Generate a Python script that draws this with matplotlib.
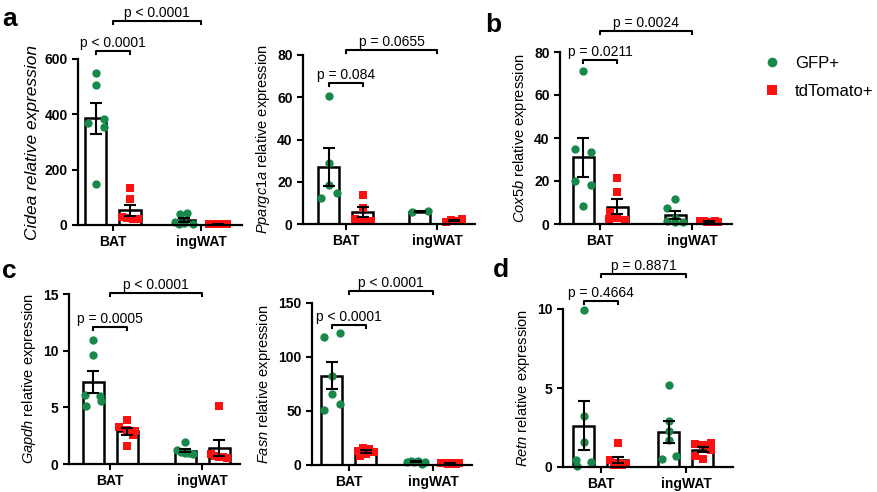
import matplotlib
matplotlib.use("Agg")
import numpy as np
import matplotlib.pyplot as plt
import matplotlib.transforms as mtransforms
from matplotlib.lines import Line2D

plt.rcParams['font.family'] = ['Liberation Sans', 'DejaVu Sans']
plt.rcParams['mathtext.fontset'] = 'custom'
plt.rcParams['mathtext.it'] = 'Liberation Sans:italic'
plt.rcParams['mathtext.rm'] = 'Liberation Sans'

GREEN = '#17894a'
RED = '#ff1010'

groups = ['BAT', 'ingWAT']
series = ['GFP+', 'tdTomato+']

# values, order: GFP BAT, tdTomato BAT, GFP ingWAT, tdTomato ingWAT
cidea = [[549, 507, 382, 369, 355, 148],
         [135, 94, 30, 25, 20, 20],
         [44, 38, 12, 6, 4, 4],
         [2, 3, 4, 3, 2, 4]]
ppargc1a = [[60.6, 28.7, 18.5, 14.8, 12.1],
            [13.7, 7.7, 2.5, 2.0, 1.6],
            [5.5, 6.3],
            [0.8, 1.8, 1.2, 2.2]]
cox5b = [[71.1, 34.8, 33.7, 20.0, 18.2, 8.5],
         [21.3, 14.8, 5.5, 3.0, 2.2, 1.8],
         [11.5, 7.6, 3.0, 1.2, 0.9, 0.8],
         [1.2, 1.6, 0.8, 1.0, 1.4, 0.9]]
gapdh = [[10.9, 9.65, 6.1, 5.97, 5.6, 5.1],
         [3.85, 3.3, 3.0, 2.9, 2.6, 1.6],
         [1.95, 1.2, 1.1, 1.0, 0.9, 0.95],
         [5.1, 0.9, 0.7, 0.6, 0.6, 0.55]]
fasn = [[118.5, 122, 82, 65.6, 56.6, 51],
        [16, 15, 13, 12, 10, 8],
        [3, 4, 2.5, 3.5, 1, 3],
        [1.5, 2, 1, 1.8, 1.2, 1.6]]
retn = [[9.96, 3.25, 1.56, 0.46, 0.32, 0.04],
        [1.5, 0.45, 0.25, 0.2, 0.15, 0.1],
        [5.2, 2.93, 2.26, 1.73, 0.72, 0.5],
        [1.5, 1.45, 1.4, 1.05, 0.7, 0.5]]

# horizontal scatter of the dots, as fraction of half a bar width
jitter = {
    'Cidea': [[0, 0, 0.73, -0.8, 0.73, 0], [0, 0, -0.8, -0.3, 0.3, 0.8],
              [0.3, -0.4, -0.9, 0, 0.9, -0.5], [-0.9, -0.5, -0.15, 0.2, 0.55, 0.9]],
    'Ppargc1a': [[0, 0, 0, 0.76, -0.76], [0, 0, -0.8, 0, 0.8],
                 [-0.8, 0.8], [-0.8, -0.3, 0.3, 0.8]],
    'Cox5b': [[0, -0.8, 0.75, -0.8, 0.75, 0], [0, 0, -0.7, 0, -0.8, 0.8],
              [0, -0.8, 0, -0.8, 0, 0.8], [-0.9, -0.5, -0.15, 0.2, 0.55, 0.9]],
    'Gapdh': [[0, 0, -0.75, 0.7, 0.8, -0.7], [0, -0.8, 0, 0.8, 0.6, 0],
              [0, -0.8, -0.4, 0.4, 0.8, 0], [0, -0.8, -0.4, 0, 0.4, 0.8]],
    'Fasn': [[-0.75, 0.75, 0, 0, 0.75, -0.75], [-0.3, 0.3, -0.8, 0.8, 0, -0.6],
             [-0.9, -0.5, -0.15, 0.2, 0.55, 0.9], [-0.9, -0.5, -0.15, 0.2, 0.55, 0.9]],
    'Retn': [[0, 0, 0, -0.8, 0.7, -0.7], [0, -0.8, 0, 0.8, -0.4, 0.4],
             [0, 0, 0, 0, 0.7, -0.7], [0.8, -0.8, 0, 0.8, -0.8, 0]],
}

# box = left, top, right, bottom in pixels; centers = BAT / ingWAT in pixels
panels = [
    dict(gene='Cidea', data=cidea, ymax=600, step=200, box=(78, 59, 242, 225),
         centers=(113, 201), brackets=(1.048, 1.229),
         pvals=('p < 0.0001', 'p < 0.0001'), all_italic=True),
    dict(gene='Ppargc1a', data=ppargc1a, ymax=80, step=20, box=(303, 55, 475, 224),
         centers=(346, 437), brackets=(0.834, 1.03),
         pvals=('p = 0.084', 'p = 0.0655')),
    dict(gene='Cox5b', data=cox5b, ymax=80, step=20, box=(560, 52, 732, 224),
         centers=(600, 692), brackets=(0.953, 1.122),
         pvals=('p = 0.0211', 'p = 0.0024')),
    dict(gene='Gapdh', data=gapdh, ymax=15, step=5, box=(69, 294, 240, 464),
         centers=(110, 202), brackets=(0.806, 1.006),
         pvals=('p = 0.0005', 'p < 0.0001')),
    dict(gene='Fasn', data=fasn, ymax=150, step=50, box=(312, 303, 472, 465),
         centers=(349, 433), brackets=(0.864, 1.074),
         pvals=('p < 0.0001', 'p < 0.0001')),
    dict(gene='Retn', data=retn, ymax=10, step=5, box=(563, 309, 733, 467),
         centers=(601, 686), brackets=(1.05, 1.22),
         pvals=('p = 0.4664', 'p = 0.8871')),
]

W, H = 878, 492
fig = plt.figure(figsize=(W / 100, H / 100), dpi=100)

for p in panels:
    l, t, r, b = p['box']
    ax = fig.add_axes([l / W, 1 - b / H, (r - l) / W, (b - t) / H])
    c0, c1 = p['centers']
    unit = c1 - c0
    ax.set_xlim(-(c0 - l) / unit, (r - c0) / unit)
    ax.set_ylim(0, p['ymax'])
    off = 17 / unit
    bw = 21 / unit
    for k, vals in enumerate(p['data']):
        g, s = divmod(k, 2)
        x = g + (off if s else -off)
        vals = np.array(vals, dtype=float)
        m = vals.mean()
        sem = vals.std(ddof=1) / np.sqrt(len(vals)) if len(vals) > 1 else 0
        ax.bar(x, m, width=bw, facecolor='white', edgecolor='black',
               linewidth=1.8, zorder=1)
        xs = x + np.array(jitter[p['gene']][k]) * bw / 2
        ax.plot(xs, vals, ls='none', marker='s' if s else 'o',
                color=RED if s else GREEN, ms=6, mew=0, zorder=2, clip_on=False)
        ax.errorbar(x, m, yerr=sem, color='black', capsize=4.3, elinewidth=1.5,
                    capthick=1.5, zorder=3)

    for sp in ['top', 'right']:
        ax.spines[sp].set_visible(False)
    for sp in ['left', 'bottom']:
        ax.spines[sp].set_linewidth(1.6)
    ax.set_yticks(np.arange(0, p['ymax'] + p['step'] / 2, p['step']))
    ax.set_xticks([0, 1])
    ax.set_xticklabels(groups)
    ax.tick_params(width=1.5, length=4, labelsize=10)
    for lab in ax.get_xticklabels() + ax.get_yticklabels():
        lab.set_fontweight('bold')
    if p.get('all_italic'):
        ax.set_ylabel(p['gene'] + ' relative expression', fontsize=12.5,
                      fontstyle='italic', labelpad=3)
    else:
        ax.set_ylabel('$\\mathit{' + p['gene'] + '}$ relative expression',
                      fontsize=10.5)

    # significance brackets
    trans = mtransforms.blended_transform_factory(ax.transData, ax.transAxes)
    drop = 3 / (b - t)
    spans = [(-off, off), (0, 1)]
    for (xa, xb), yb, txt in zip(spans, p['brackets'], p['pvals']):
        ax.plot([xa, xa, xb, xb], [yb - drop, yb, yb, yb - drop], color='black',
                lw=1.5, transform=trans, clip_on=False)
        ax.annotate(txt, xy=((xa + xb) / 2, yb), xycoords=trans, xytext=(0, 3),
                    textcoords='offset points', ha='center', va='baseline',
                    fontsize=10)

for letter, (x, y) in zip('abcd', [(10, 19), (493, 25), (9, 271), (501, 270)]):
    fig.text(x / W, 1 - y / H, letter, fontsize=19, fontweight='bold',
             ha='center', va='center')

handles = [Line2D([], [], ls='none', marker='o', color=GREEN, ms=7, mew=0),
           Line2D([], [], ls='none', marker='s', color=RED, ms=7, mew=0)]
fig.legend(handles, series, loc='center left', bbox_to_anchor=(764 / W, 1 - 77.5 / H),
           frameon=False, fontsize=12, handletextpad=0.86, labelspacing=0.75,
           handlelength=1.0, borderpad=0, borderaxespad=0)

fig.savefig('out.png', dpi=100)
